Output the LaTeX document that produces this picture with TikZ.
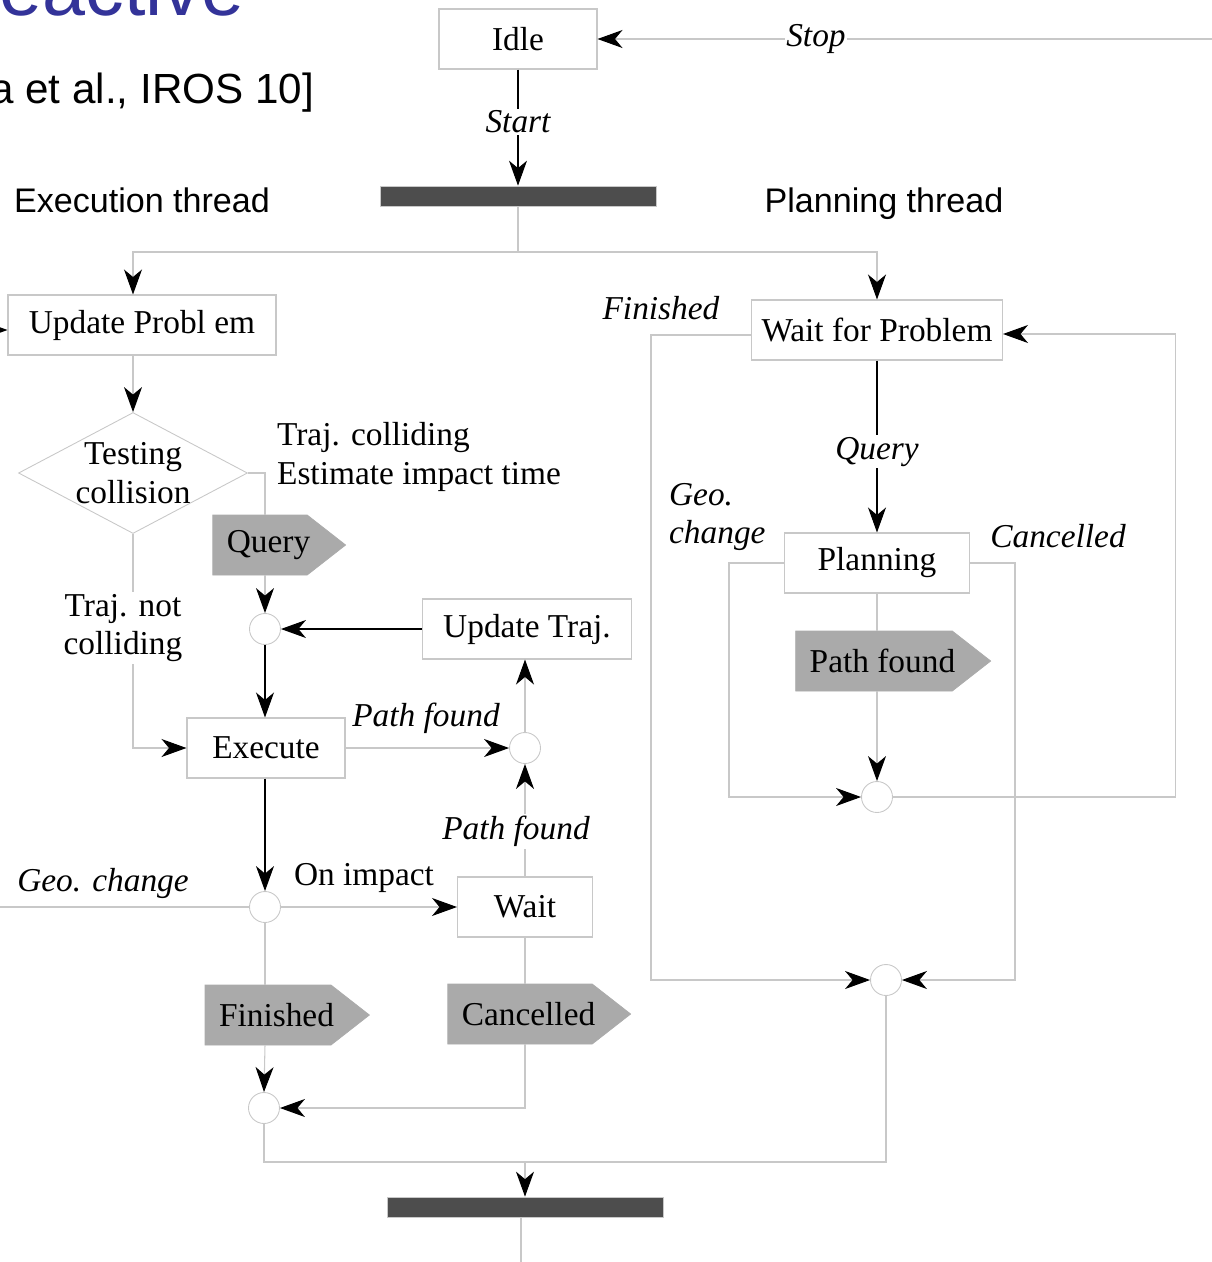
\documentclass[tikz,border=0pt]{standalone}
\usepackage{fontspec}
\setmainfont{Liberation Serif}
\setsansfont{Liberation Sans}
\usetikzlibrary{arrows.meta,shapes.geometric,shapes.symbols}
\definecolor{edgegray}{HTML}{C8C8C8}
\definecolor{barfill}{HTML}{4D4D4D}
\definecolor{sigfill}{HTML}{AAAAAA}
\definecolor{titleblue}{HTML}{333399}
\tikzset{
  state/.style={draw=edgegray, line width=0.6pt, fill=white, minimum height=1.2cm, inner sep=0pt, font=\fontsize{19}{22}\selectfont},
  junc/.style={circle, draw=edgegray, line width=0.5pt, fill=white, minimum size=0.62cm, inner sep=0pt},
  sig/.style={signal, signal to=east, signal pointer angle=76, fill=sigfill, draw=sigfill, minimum height=1.2cm, inner xsep=0pt,
    execute at begin node={\hspace{0.28cm}}, execute at end node={\hspace{-0.06cm}}, font=\fontsize{19}{22}\selectfont},
  syncbar/.style={fill=barfill, draw=edgegray, line width=0.4pt, minimum width=5.52cm, minimum height=0.4cm, inner sep=0pt},
  gline/.style={draw=edgegray, line width=0.6pt},
  bline/.style={draw=black, line width=0.6pt},
  lbl/.style={font=\fontsize{19}{22}\selectfont\itshape, inner sep=1pt},
  txt/.style={font=\fontsize{19}{22}\selectfont, inner sep=1pt},
  thread/.style={font=\sffamily\fontsize{19.4}{22}\selectfont, inner sep=0pt, anchor=base},
}
\begin{document}
\begin{tikzpicture}[x=0.02cm, y=-0.02cm, >={Stealth[length=0.5cm, width=0.36cm, inset=0.15cm, color=black]}]
    \useasboundingbox (0,0) rectangle (1212,1262);
    \clip (0,0) rectangle (1212,1262);

    % bits of the slide around the chart
    \node[font=\sffamily\fontsize{44}{50}\selectfont, text=titleblue, anchor=base east, inner sep=0pt] (title) at (245,15) {Reactive};
    \node[font=\sffamily\fontsize{24}{28}\selectfont, anchor=base west, inner sep=0pt] (cite) at (-10,103) {a et al., IROS 10]};
    \node[thread] (exth) at (142,212) {Execution thread};
    \node[thread] (plth) at (884,212) {Planning thread};

    % states
    \node[state, minimum width=3.16cm] (idle) at (518,39) {Idle};
    \node[syncbar] (fork) at (518,196) {};
    \node[state, minimum width=5.36cm] (updprob) at (142,325) {Update Probl em};
    \node[diamond, aspect=1.9, draw=edgegray, line width=0.5pt, fill=white, minimum width=4.58cm, minimum height=2.42cm, inner sep=0pt,
      label={[txt, align=center]center:Testing\\collision}] (testcoll) at (133,473) {};
    \node[sig] (query) at (260,545) {Query};
    \node[junc] (j1) at (265,629) {};
    \node[state, minimum width=4.18cm] (updtraj) at (527,629) {Update Traj.};
    \node[state, minimum width=3.16cm] (execute) at (266,748) {Execute};
    \node[junc] (j2) at (525,748) {};
    \node[junc] (j3) at (265,907) {};
    \node[state, minimum width=2.7cm] (wait) at (525,907) {Wait};
    \node[sig] (finished) at (268,1015) {Finished};
    \node[sig] (cancelled) at (520,1014) {Cancelled};
    \node[junc] (j4) at (264,1108) {};
    \node[syncbar] (join) at (525,1207) {};

    \node[state, minimum width=5.02cm] (waitprob) at (877,330) {Wait for Problem};
    \node[state, minimum width=3.7cm] (planning) at (877,563) {Planning};
    \node[sig] (pathfound) at (874,661) {Path found};
    \node[junc] (j5) at (877,797) {};
    \node[junc] (j6) at (886,980) {};

    \coordinate (stopin) at (1240,39);
    \coordinate (split) at (518,252);
    \coordinate (merge) at (525,1162);
    \coordinate (leave) at (-20,907);
    \coordinate (below) at (521,1290);

    % execution thread
    \draw[gline, ->] (stopin) -- node[lbl, fill=white, pos=0.66] {Stop} (idle.east);
    \draw[bline, ->] (idle) -- node[lbl, fill=white, pos=0.45] {Start} (fork.north);
    \draw[gline] (fork) -- (split);
    \draw[gline, ->] (split) -| (testcoll.north |- updprob.north);
    \draw[gline, ->] (split) -| (waitprob.north);
    \draw[gline, ->] (updprob.south -| testcoll.north) -- (testcoll.north);
    \draw[gline] (testcoll.east) -| (j1 |- query.north);
    \node[txt, align=left, anchor=west] (colltxt) at (275,457) {Traj. colliding\\Estimate impact time};
    \draw[gline, ->] (j1 |- query.south) -- (j1);
    \draw[bline, ->] (updtraj.west) -- (j1.east);
    \draw[bline, ->] (j1) -- (j1 |- execute.north);
    \draw[gline, ->] (testcoll.south) |- node[txt, fill=white, align=center, pos=0.22, xshift=-0.2cm] {Traj. not\\colliding} (execute.west);
    \draw[gline, ->] (execute.east) -- (j2.west);
    \node[lbl] (pf1) at (426,718) {Path found};
    \draw[gline, ->] (j2) -- (j2 |- updtraj.south);
    \draw[gline, ->] (wait.north) -- node[lbl, fill=white, pos=0.4, xshift=-0.18cm] {Path found} (j2.south);
    \draw[bline, ->] (execute.south -| j3) -- (j3.north);
    \draw[gline, ->] (j3.east) -- (wait.west);
    \node[txt] (impact) at (364,878) {On impact};
    \draw[gline, ->] (j3.west) -- (leave) |- ([yshift=-0.1cm]updprob.west);
    \node[lbl] (geo1) at (103,883) {Geo. change};
    \draw[gline] (j3.south) -- (j3 |- finished.north);
    \draw[gline, ->] (j3 |- finished.south) -- (j4.north);
    \draw[gline] (wait.south) -- (wait |- cancelled.north);
    \draw[gline, ->] (wait |- cancelled.south) |- (j4.east);
    \draw[gline] (j4.south) |- (merge);
    \draw[gline] (j6.south) |- (merge);
    \draw[gline, ->] (merge) -- (join.north);
    \draw[gline] (join.south -| below) -- (below);

    % planning thread
    \draw[bline, ->] (waitprob.south) -- node[lbl, fill=white, pos=0.53] {Query} (planning.north);
    \draw[gline] (planning.south) -- (planning |- pathfound.north);
    \draw[gline, ->] (planning |- pathfound.south) -- (j5.north);
    \draw[gline, ->] (planning.west) -- ++(-55,0) |- (j5.west);
    \node[lbl, align=left, anchor=west] (geo2) at (667,517) {Geo.\\change};
    \draw[gline, ->] (j5.east) -- ++(283,0) |- ([yshift=-0.08cm]waitprob.east);
    \draw[gline, ->] (planning.east) -- ++(45,0) |- (j6.east);
    \node[lbl] (canc) at (1058,536) {Cancelled};
    \draw[gline, ->] ([yshift=-0.1cm]waitprob.west) -- ++(-100,0) |- (j6.west);
    \node[lbl] (fin) at (661,308) {Finished};
\end{tikzpicture}
\end{document}
